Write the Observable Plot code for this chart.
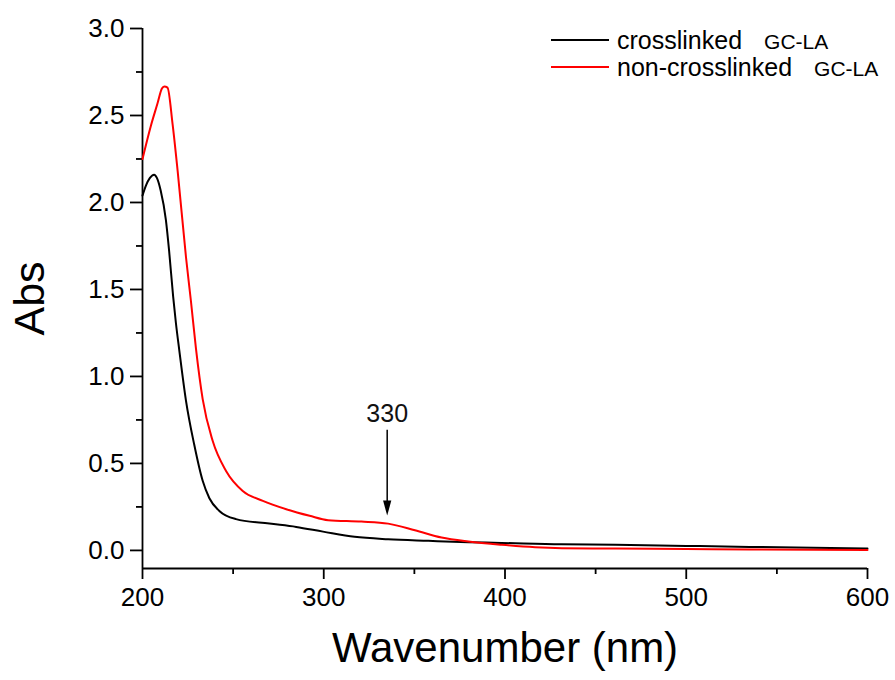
<!DOCTYPE html>
<html><head><meta charset="utf-8">
<script src="https://cdn.jsdelivr.net/npm/d3@7"></script>
<script src="https://cdn.jsdelivr.net/npm/@observablehq/plot@0.6"></script>
<style>
body{margin:0;background:#fff;font-family:"Liberation Sans",Arial,sans-serif;}
#wrap{position:relative;width:895px;height:680px;}
#legend{position:absolute;left:551px;top:27px;color:#000;}
#legend .row{position:relative;height:26.6px;line-height:26.6px;white-space:nowrap;padding-left:66px;}
#legend .sw{position:absolute;left:0;top:12.3px;width:58px;height:2px;}
#legend .t{font-size:25px;}
#legend .g{font-size:21px;margin-left:22px;}
</style></head><body><div id="wrap"><div id="legend"></div></div>
<script>
// Series: crosslinked GC-LA (black)
const wlCross = [200,202,204,206.4,208,210,212.9,214.7,216.9,218.4,220.3,224,228.5,233.2,236.9,242.4,251.6,270,284.8,299.6,317,335.5,357.7,379.8,398,431,461,500,535,570,600];
const absCross = [2.04,2.10,2.14,2.16,2.14,2.07,1.90,1.72,1.46,1.31,1.15,0.86,0.61,0.40,0.30,0.227,0.18,0.154,0.135,0.108,0.078,0.064,0.055,0.047,0.043,0.035,0.033,0.026,0.02,0.015,0.011];
// Series: non-crosslinked GC-LA (red)
const wlNon = [200,204.6,208.3,210.7,212,213.8,216.6,219.4,224,226.7,229.5,233.2,238.7,246.1,255.3,266.4,279.3,292.2,302.4,320.8,335.5,350.3,365,379.8,398.2,416.6,431.4,461,500,535,600];
const absNon = [2.25,2.44,2.57,2.655,2.667,2.66,2.45,2.18,1.685,1.435,1.16,0.87,0.63,0.457,0.342,0.285,0.237,0.199,0.174,0.166,0.154,0.116,0.074,0.051,0.032,0.018,0.013,0.011,0.008,0.005,0.002];
const seriesNames = ["crosslinked", "non-crosslinked"];
const seriesSuffix = "GC-LA";
const seriesColors = ["#000000", "#ff0000"];
// Ticks
const xMajor = [200,300,400,500,600];
const xMinor = [250,350,450,550];
const yMajor = [0,0.5,1.0,1.5,2.0,2.5,3.0];
const yMinor = [0.25,0.75,1.25,1.75,2.25,2.75];
const xDomain = [200,600];
const yDomain = [-0.104,3.0];
// Annotation
const annoLabel = ["330"];
const annoX = [335];
const annoTop = [0.69];
const annoTip = [0.2];
const annoTextY = [0.785];
const xTitle = "Wavenumber (nm)";
const yTitle = "Abs";

const cross = wlCross.map((w,i)=>({wl:w, abs:absCross[i]}));
const non = wlNon.map((w,i)=>({wl:w, abs:absNon[i]}));
const anno = annoX.map((x,i)=>({x, top:annoTop[i], tip:annoTip[i], ty:annoTextY[i], label:annoLabel[i]}));

// narrow downward-pointing triangle with tip at origin
const arrowHead = {draw(ctx, size){ const r = Math.sqrt(size/Math.PI); ctx.moveTo(0,0); ctx.lineTo(-r*0.55,-r*2); ctx.lineTo(r*0.55,-r*2); ctx.closePath(); }};

const chart = Plot.plot({
  width: 895, height: 680,
  marginLeft: 142, marginRight: 28, marginTop: 28, marginBottom: 112,
  style: {fontFamily: "'Liberation Sans', Arial, sans-serif", color: "#000", background: "#fff"},
  x: {domain: xDomain},
  y: {domain: yDomain},
  marks: [
    Plot.axisX({ticks: xMinor, tickSize: 6, tickFormat: () => "", strokeWidth: 1.8, label: null}),
    Plot.axisX({ticks: xMajor, tickSize: 11, tickPadding: 8, fontSize: 26, strokeWidth: 1.8, label: null}),
    Plot.axisY({ticks: yMinor, tickSize: 6, tickFormat: () => "", strokeWidth: 1.8, label: null}),
    Plot.axisY({ticks: yMajor, tickSize: 12, tickPadding: 6, fontSize: 26, strokeWidth: 1.8, tickFormat: d3.format(".1f"), label: null}),
    Plot.ruleX([xDomain[0]], {stroke: "#000", strokeWidth: 1.8}),
    Plot.ruleY([yDomain[0]], {stroke: "#000", strokeWidth: 1.8}),
    Plot.line(cross, {x: "wl", y: "abs", stroke: seriesColors[0], strokeWidth: 2, curve: "monotone-x"}),
    Plot.line(non, {x: "wl", y: "abs", stroke: seriesColors[1], strokeWidth: 2, curve: "monotone-x"}),
    Plot.ruleX(anno, {x: "x", y1: "top", y2: d => d.tip + 0.04, stroke: "#000", strokeWidth: 1.5}),
    Plot.dot(anno, {x: "x", y: "tip", symbol: arrowHead, r: 7.5, fill: "#000", stroke: "none"}),
    Plot.text(anno, {x: "x", y: "ty", text: "label", fontSize: 25, fill: "#111"}),
    Plot.text([xTitle], {frameAnchor: "bottom", lineAnchor: "middle", dy: 80, fontSize: 42, fill: "#000"}),
    Plot.text([yTitle], {frameAnchor: "left", textAnchor: "middle", lineAnchor: "middle", dx: -112, rotate: -90, fontSize: 43, fill: "#000"})
  ]
});
document.getElementById("wrap").prepend(chart);

const legend = document.getElementById("legend");
seriesNames.forEach((n,i)=>{
  const row = document.createElement("div"); row.className = "row";
  const sw = document.createElement("span"); sw.className = "sw"; sw.style.background = seriesColors[i];
  const t = document.createElement("span"); t.className = "t"; t.textContent = n;
  const g = document.createElement("span"); g.className = "g"; g.textContent = seriesSuffix;
  row.append(sw, t, g); legend.append(row);
});
</script></body></html>
